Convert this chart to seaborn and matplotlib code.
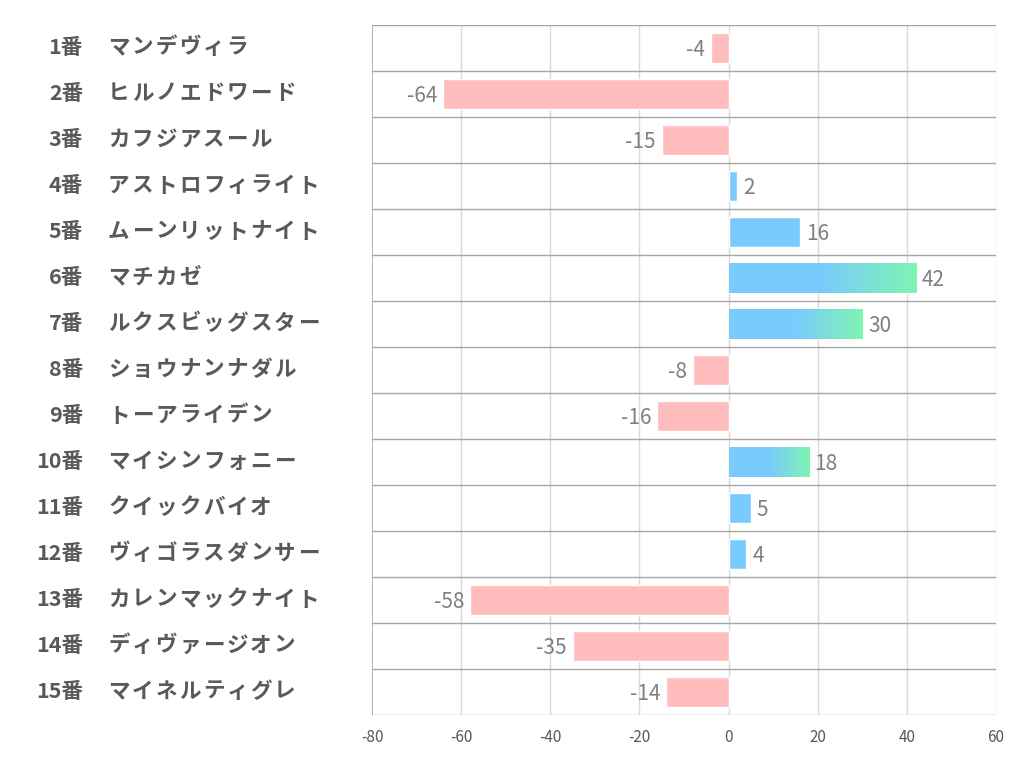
import matplotlib
matplotlib.use('Agg')
import matplotlib.pyplot as plt
import matplotlib.transforms as mtransforms
from matplotlib.colors import LinearSegmentedColormap
import numpy as np
import pandas as pd
import seaborn as sns

# Datos del gráfico
numeros = ['1番', '2番', '3番', '4番', '5番', '6番', '7番', '8番', '9番', '10番',
           '11番', '12番', '13番', '14番', '15番']
nombres = ['マンデヴィラ', 'ヒルノエドワード', 'カフジアスール', 'アストロフィライト',
           'ムーンリットナイト', 'マチカゼ', 'ルクスビッグスター', 'ショウナンナダル',
           'トーアライデン', 'マイシンフォニー', 'クイックバイオ', 'ヴィゴラスダンサー',
           'カレンマックナイト', 'ディヴァージオン', 'マイネルティグレ']
valores = [-4, -64, -15, 2, 16, 42, 30, -8, -16, 18, 5, 4, -58, -35, -14]
destacados = ['6番', '7番', '10番']  # barras con degradado azul -> verde

AZUL = '#7ACBFD'
VERDE = '#7EF5B2'
ROSA = '#FFBDBE'
TEXTO = '#595959'

sns.set_style('white')
plt.rcParams['font.family'] = ['Noto Sans CJK JP', 'DejaVu Sans']

df = pd.DataFrame({'numero': numeros, 'nombre': nombres, 'valor': valores})
colores = [AZUL if v > 0 else ROSA for v in valores]

fig = plt.figure(figsize=(10.22, 7.82), dpi=100)
ax = fig.add_axes([372 / 1022, 1 - 715 / 782, 624 / 1022, 690 / 782])

sns.barplot(data=df, x='valor', y='numero', hue='numero', palette=colores,
            legend=False, width=0.67, saturation=1, ax=ax, zorder=3)

ax.set_xlim(-80, 60)
ax.set_ylim(len(numeros) - 0.5, -0.5)

# Degradado en las barras destacadas
cmap = LinearSegmentedColormap.from_list('az_ve', [(0, AZUL), (0.5, AZUL), (1, VERDE)])
grad = np.linspace(0, 1, 256).reshape(1, -1)
for barra, num in zip(ax.patches, numeros):
    if num in destacados:
        x0, y0 = barra.get_x(), barra.get_y()
        w, h = barra.get_width(), barra.get_height()
        im = ax.imshow(grad, cmap=cmap, aspect='auto', extent=(x0, x0 + w, y0 + h, y0),
                       zorder=4, interpolation='bicubic')
        im.set_clip_path(barra)

# Etiquetas de valores
for i, v in enumerate(valores):
    if v >= 0:
        ax.text(v + 1.3, i + 0.05, str(v), ha='left', va='center', fontsize=15, color='#7F7F7F',
                zorder=5)
    else:
        ax.text(v - 1.3, i + 0.05, str(v), ha='right', va='center', fontsize=15, color='#7F7F7F',
                zorder=5)

# Rejilla
for x in range(-60, 61, 20):
    ax.axvline(x, color='#D9D9D9', lw=1, zorder=1)
for y in np.arange(-0.5, len(numeros), 1):
    ax.axhline(y, color='#A6A6A6', lw=1, zorder=2)
ax.axvline(-80, color='#A6A6A6', lw=1.2, zorder=2)

for s in ax.spines.values():
    s.set_visible(False)

ax.set_xticks(range(-80, 61, 20))
ax.set_xticklabels([str(t) for t in range(-80, 61, 20)], fontsize=11, color=TEXTO)
ax.tick_params(axis='x', length=0, pad=10)
ax.set_yticks([])
ax.set_xlabel('')
ax.set_ylabel('')

# Etiquetas de la izquierda (número y nombre, con espaciado entre caracteres)
trans = mtransforms.blended_transform_factory(fig.transFigure, ax.transData)
paso = 23.7  # avance por carácter en píxeles
for i, (num, nom) in enumerate(zip(numeros, nombres)):
    ax.text(83 / 1022, i - 0.02, num, transform=trans, ha='right', va='center', fontsize=15.5,
            fontweight='bold', color=TEXTO, clip_on=False)
    for k, c in enumerate(nom):
        ax.text((108 + k * paso) / 1022, i - 0.02, c, transform=trans, ha='left', va='center',
                fontsize=15.5, fontweight='bold', color=TEXTO, clip_on=False)

fig.savefig('out.png', dpi=100)
